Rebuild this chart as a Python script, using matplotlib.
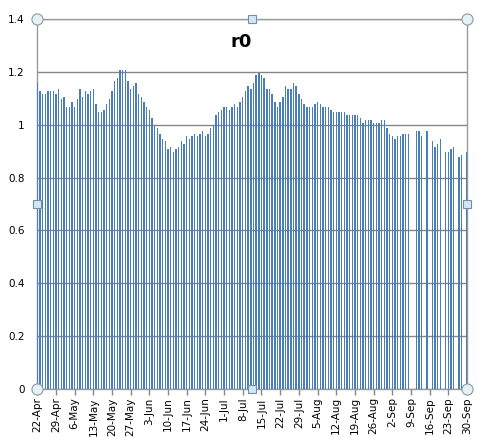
import matplotlib
matplotlib.use("Agg")
import matplotlib.pyplot as plt
import matplotlib.dates as mdates
import numpy as np
import pandas as pd

# daily r0 values, 22-Apr .. 30-Sep (nan = no value that day)
start_date = "2013-04-22"
end_date = "2013-09-30"
r0 = [
    1.158, 1.127, 1.116, 1.116, 1.127, 1.127, 1.127, 1.116, 1.135, 1.097,
    1.105, 1.067, 1.067, 1.086, 1.067, 1.097, 1.135, 1.105, 1.127, 1.116,
    1.127, 1.135, 1.078, 1.048, 1.048, 1.056, 1.078, 1.097, 1.127, 1.165,
    1.177, 1.207, 1.207, 1.207, 1.165, 1.135, 1.146, 1.158, 1.116, 1.105,
    1.086, 1.067, 1.056, 1.025, 0.995, 0.988, 0.965, 0.946, 0.938, 0.908,
    0.916, 0.897, 0.908, 0.916, 0.938, 0.927, 0.957, 0.946, 0.957, 0.965,
    0.957, 0.965, 0.976, 0.957, 0.965, 0.988, 0.999, 1.037, 1.048, 1.056,
    1.067, 1.067, 1.056, 1.067, 1.078, 1.067, 1.086, 1.105, 1.127, 1.146,
    1.135, 1.158, 1.188, 1.196, 1.188, 1.177, 1.135, 1.135, 1.116, 1.086,
    1.067, 1.086, 1.105, 1.146, 1.135, 1.135, 1.158, 1.146, 1.116, 1.097,
    1.078, 1.067, 1.067, 1.067, 1.078, 1.086, 1.078, 1.067, 1.067, 1.067,
    1.056, 1.048, 1.048, 1.048, 1.048, 1.048, 1.037, 1.037, 1.037, 1.037,
    1.037, 1.025, 1.006, 1.018, 1.018, 1.018, 1.006, 1.006, 1.006, 1.018,
    1.018, 0.988, 0.965, 0.957, 0.946, 0.957, 0.957, 0.965, 0.965, 0.965,
    np.nan, np.nan, 0.976, 0.976, 0.957, np.nan, 0.976, np.nan, 0.938, 0.916,
    0.927, 0.946, np.nan, 0.897, 0.897, 0.908, 0.916, np.nan, 0.878, 0.885,
    np.nan, 0.897,
]
y_ticks = [0, 0.2, 0.4, 0.6, 0.8, 1, 1.2, 1.4]
title = "r0"

days = pd.date_range(start_date, end_date, freq="D")
x = mdates.date2num(days.to_pydatetime())
vals = np.array(r0, dtype=float)
mask = ~np.isnan(vals)

fig = plt.figure(figsize=(4.78, 4.37), dpi=100)
ax = fig.add_axes([0.078, 0.1098, 0.899, 0.8467])

ax.bar(x[mask], vals[mask], width=0.52, color="#4A7EBB", linewidth=0, zorder=3)

ax.set_xlim(x[0], x[-1])
ax.set_ylim(0, 1.4)
ax.set_yticks(y_ticks)
ax.set_yticklabels(["0", "0.2", "0.4", "0.6", "0.8", "1", "1.2", "1.4"])
ax.yaxis.grid(True, color="#868686", linewidth=1, zorder=1)
ax.set_axisbelow(True)

ax.set_xticks(x[::7])
ax.xaxis.set_major_formatter(mdates.DateFormatter("%-d-%b"))
plt.setp(ax.get_xticklabels(), rotation=90)
ax.tick_params(axis="x", length=4, width=1, color="#868686", labelsize=7.5, pad=2)
ax.tick_params(axis="y", length=0, labelsize=7.5, pad=9)

for s in ax.spines.values():
    s.set_color("#9A9A9A")
    s.set_linewidth(1)

ax.text(0.475, 0.938, title, transform=ax.transAxes, ha="center", va="center",
        fontsize=13, fontweight="bold")

# selection handles of the plot area
for hx, hy in [(0, 0), (0, 1), (1, 0), (1, 1)]:
    ax.plot(hx, hy, "o", transform=ax.transAxes, ms=8, mfc="#E4F1F5",
            mec="#8A9BA8", mew=0.8, clip_on=False, zorder=6)
for hx, hy in [(0.5, 0), (0.5, 1), (0, 0.5), (1, 0.5)]:
    ax.plot(hx, hy, "s", transform=ax.transAxes, ms=5.5, mfc="#D3E6F2",
            mec="#6F8FAF", mew=0.8, clip_on=False, zorder=6)

fig.savefig("out.png", dpi=100)
